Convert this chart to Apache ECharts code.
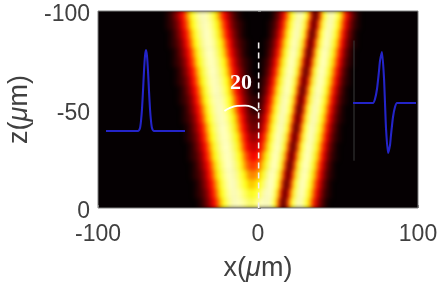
<!DOCTYPE html>
<html><head><meta charset="utf-8">
<style>
html,body{margin:0;padding:0;background:#fff;overflow:hidden}
#plotBack{position:absolute;left:98px;top:11px;width:320px;height:197px;background:#050002}
#c{position:absolute;left:0;top:0;width:445px;height:291px}
</style>
<script src="https://cdn.jsdelivr.net/npm/echarts@6/dist/echarts.min.js"></script>
</head><body>
<div id="plotBack"></div>
<div id="c"></div>
<script>
// Intensity, one string per z row (z = -100 ... 0 in steps of 5).
// Each character is a base-36 level (0-35) for x cells centred on -67, -65, ... 71.
const intensityRows = [
"00000"+"12469cglquxzzxuqlgc96421"+"000000000"+"1359djpvyzvpf55fpvzyvpjd9531"+"0000",
"00000"+"12357bejoswyzywsojeb75321"+"0000000"+"1247bgmsxzxska3aksxzxsmgb7421"+"0000",
"000000"+"12469cglquxzzxuqlgc96421"+"0000000"+"1359djpvyzvpf55fpvzyvpjd9531"+"00000",
"000000"+"12357bejoswyzywsojeb75321"+"00000"+"1247bgmsxzxska3aksxzxsmgb7421"+"00000",
"0000000"+"12469cglquxzzxuqlgc96421"+"00000"+"1359djpvyzvpf55fpvzyvpjd9531"+"000000",
"0000000"+"12357bejoswyzywsojeb75321"+"000"+"1247bgmsxzxska3aksxzxsmgb7421"+"000000",
"00000000"+"12469cglquxzzxuqlgc96421"+"000"+"1359djpvyzvpf55fpvzyvpjd9531"+"0000000",
"00000000"+"12357bejoswyzywsojeb75321"+"0"+"1247bgmsxzxska3aksxzxsmgb7421"+"0000000",
"000000000"+"12469cglquxzzxuqlgc96421"+"0"+"1359djpvyzvpf55fpvzyvpjd9531"+"00000000",
"000000000"+"12357bejoswyzywsojeb7532"+"2"+"247bgmsxzxska3aksxzxsmgb7421"+"00000000",
"0000000000"+"12469cglquxzzxuqlgc9642"+"2"+"359djpvyzvpf55fpvzyvpjd9531"+"000000000",
"0000000000"+"12357bejoswyzywsojeb75"+"445"+"7bgmsxzxska3aksxzxsmgb7421"+"000000000",
"00000000000"+"12469cglquxzzxuqlgc96"+"556"+"9djpvyzvpf55fpvzyvpjd9531"+"0000000000",
"00000000000"+"12357bejoswyzywsojeb"+"8779c"+"gmsxzxska3aksxzxsmgb7421"+"0000000000",
"000000000000"+"12469cglquxzzxuqlgc"+"a99be"+"jpvyzvpf55fpvzyvpjd9531"+"00000000000",
"000000000000"+"12357bejoswyzywsoj"+"fdbcein"+"sxzxska3aksxzxsmgb7421"+"00000000000",
"0000000000000"+"12469cglquxzzxuql"+"hfefhlq"+"vyzvpf55fpvzyvpjd9531"+"000000000000",
"0000000000000"+"12357bejoswyzyws"+"pliiilpuy"+"zxska3aksxzxsmgb7421"+"000000000000",
"00000000000000"+"12469cglquxzzxu"+"rollmptxz"+"zvpf55fpvzyvpjd9531"+"0000000000000",
"00000000000000"+"12357bejoswyzy"+"xusqprtxzzy"+"ska3aksxzxsmgb7421"+"0000000000000",
"000000000000000"+"12469cglquxzz"+"yxvutvyzzzw"+"pf55fpvzyvpjd9531"+"00000000000000"
];
const centreLine = [[0.4,-84],[0.4,0]];
const angleArc = [[-21,-49.2],[-17.5,-50.8],[-13,-51.8],[-8,-52],[-4,-51.3],[0,-49.2]];
const insetAxisLine = [[60,-85],[60,-24]];
const angleLabel = "20";
const gaussX = [-40,-8,-6,-5,-4,-3,-2,-1,0,1,2,3,4,5,6,8,39];
const gaussY = [0,0,3,10,22,40,60,75,81,75,60,40,22,10,3,0,0];
const firstOrderX = [-32,-12,-10,-8,-6,-5,-3,-1,0,1,3,5,6,8,10,12,31];
const firstOrderY = [0,0,4,14,32,42,51,25,0,-25,-50,-42,-32,-14,-4,0,0];

const xCats = []; for (let v=-99; v<=99; v+=2) xCats.push(v);
const zCats = intensityRows.map((_,k)=>k);
const heat = [];
intensityRows.forEach((row,k)=>{
  for (let i=0;i<row.length;i++){
    const v=parseInt(row[i],36);
    if(v>0) heat.push([i+16,k,v]);
  }
});
const zip=(a,b)=>a.map((v,i)=>[v,b[i]]);
const plot={left:98,top:11,width:320,height:197,outerBoundsMode:'none'};
const labelCol='#404040';
const fam='"Liberation Sans",Arial,sans-serif';
const nameRich={a:{fontFamily:fam,fontSize:27,color:labelCol},b:{fontFamily:fam,fontSize:27,fontStyle:'italic',color:labelCol}};
const hiddenAxis=(idx,extra)=>Object.assign({gridIndex:idx,show:false},extra);

const chart=echarts.init(document.getElementById('c'),null,{renderer:'canvas',width:445,height:291});
chart.setOption({
  animation:false,
  backgroundColor:'transparent',
  visualMap:{show:false,min:0,max:35,seriesIndex:0,calculable:false,
    inRange:{color:['#050002','#ff0000','#ffff00','#ffffc0']}},
  grid:[
    Object.assign({show:false,zlevel:0},plot),
    Object.assign({show:true,backgroundColor:'transparent',borderColor:'#808080',borderWidth:1,zlevel:1},plot),
    {left:106,top:50,width:79,height:81,zlevel:1,outerBoundsMode:'none'},
    {left:353,top:52,width:63,height:101,zlevel:1,outerBoundsMode:'none'}
  ],
  xAxis:[
    hiddenAxis(0,{type:'category',data:xCats,boundaryGap:true}),
    {gridIndex:1,type:'value',min:-100,max:100,interval:100,zlevel:1,
      axisLine:{show:false},splitLine:{show:false},
      axisTick:{inside:true,length:3,lineStyle:{color:'#808080'}},
      axisLabel:{fontFamily:fam,fontSize:23,color:labelCol,margin:15,showMinLabel:true,showMaxLabel:true,hideOverlap:false},
      name:'{a|x(}{b|\u03bc}{a|m)}',nameLocation:'middle',nameGap:47,nameTextStyle:{rich:nameRich}},
    hiddenAxis(2,{type:'value',min:-40,max:39}),
    hiddenAxis(3,{type:'value',min:-32,max:31})
  ],
  yAxis:[
    hiddenAxis(0,{type:'category',data:zCats,inverse:true,boundaryGap:true}),
    {gridIndex:1,type:'value',min:-100,max:0,interval:50,inverse:true,zlevel:1,
      axisLine:{show:false},splitLine:{show:false},
      axisTick:{inside:true,length:3,lineStyle:{color:'#808080'}},
      axisLabel:{fontFamily:fam,fontSize:23,color:labelCol,margin:8,verticalAlign:'top',lineHeight:8,showMinLabel:true,showMaxLabel:true,hideOverlap:false},
      name:'{a|z(}{b|\u03bc}{a|m)}',nameLocation:'middle',nameGap:58,nameRotate:90,nameTextStyle:{rich:nameRich}},
    hiddenAxis(2,{type:'value',min:0,max:81}),
    hiddenAxis(3,{type:'value',min:-50,max:51})
  ],
  series:[
    {type:'heatmap',xAxisIndex:0,yAxisIndex:0,data:heat,zlevel:0,progressive:0,silent:true,itemStyle:{borderWidth:0}},
    {type:'line',xAxisIndex:1,yAxisIndex:1,data:centreLine,zlevel:1,symbol:'none',silent:true,
      lineStyle:{color:'#f4f0f0',width:1.6,type:[6,4]}},
    {type:'line',xAxisIndex:1,yAxisIndex:1,data:angleArc,zlevel:1,symbol:'none',smooth:true,silent:true,
      lineStyle:{color:'#ffffff',width:1.8}},
    {type:'line',xAxisIndex:1,yAxisIndex:1,data:insetAxisLine,zlevel:1,symbol:'none',silent:true,
      lineStyle:{color:'#3a3a3a',width:1}},
    {type:'line',xAxisIndex:2,yAxisIndex:2,data:zip(gaussX,gaussY),zlevel:1,symbol:'none',smooth:0.2,silent:true,clip:false,
      lineStyle:{color:'#2424c8',width:2.1}},
    {type:'line',xAxisIndex:3,yAxisIndex:3,data:zip(firstOrderX,firstOrderY),zlevel:1,symbol:'none',smooth:0.2,silent:true,clip:false,
      lineStyle:{color:'#2424c8',width:2.1}}
  ],
  graphic:[{type:'text',left:230,top:72,zlevel:1,silent:true,
    style:{text:angleLabel,fill:'#fff',font:'bold 22px "Liberation Serif","DejaVu Serif",serif'}}]
});
const layer=document.querySelectorAll('#c canvas')[0];
if(layer){
  layer.style.filter='blur(2px)';
  layer.style.clipPath='inset(11px 27px 83px 98px)';
}
</script>
</body></html>
